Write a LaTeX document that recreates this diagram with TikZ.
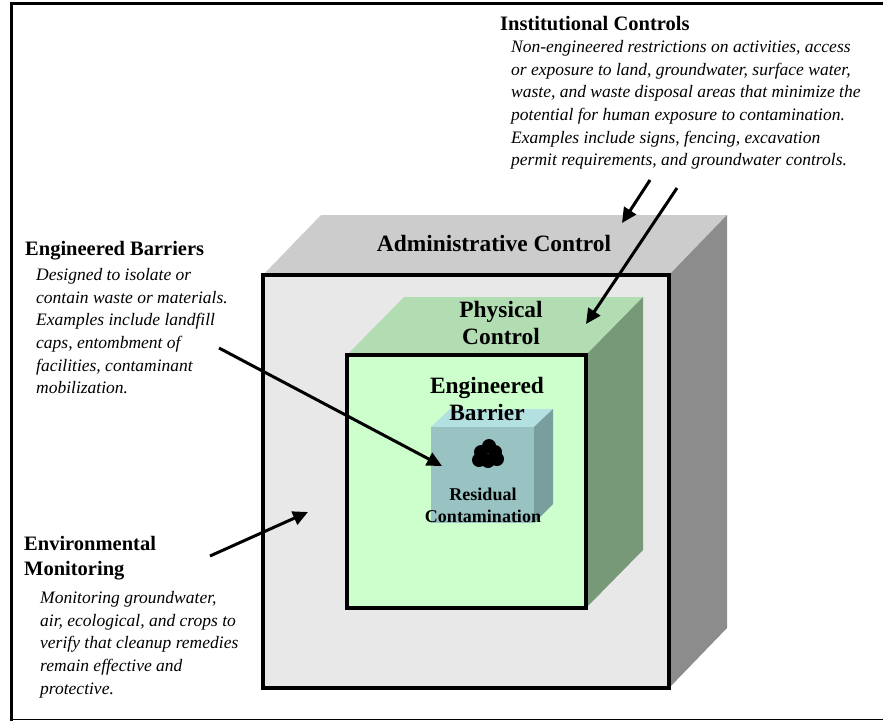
\documentclass[tikz,border=0pt]{standalone}
\usepackage{fontspec}
\setmainfont{Liberation Serif}
\usetikzlibrary{arrows.meta}

\definecolor{adminfront}{HTML}{E8E8E8}
\definecolor{admintop}{HTML}{CCCCCC}
\definecolor{adminside}{HTML}{8C8C8C}
\definecolor{physfront}{HTML}{CCFFCC}
\definecolor{phystop}{HTML}{B2DCB2}
\definecolor{physside}{HTML}{779977}
\definecolor{barfront}{HTML}{99C2C2}
\definecolor{bartop}{HTML}{B3E0E0}
\definecolor{barside}{HTML}{789E9E}

\tikzset{
  heading/.style={anchor=north west, inner sep=0pt, align=left,
    font=\fontsize{20.5}{25}\selectfont\bfseries},
  desc/.style={anchor=north west, inner sep=0pt, align=left,
    font=\fontsize{17.5}{22.7}\selectfont\itshape},
  cubelabel/.style={inner sep=0pt, align=center,
    font=\fontsize{23.4}{27}\selectfont\bfseries},
  smalllabel/.style={inner sep=0pt, align=center,
    font=\fontsize{18}{22}\selectfont\bfseries},
  pointer/.style={line width=3pt, -{Triangle[length=15pt,width=14pt]}},
  frontedge/.style={line width=4pt, line join=miter},
}

\begin{document}
\begin{tikzpicture}[x=1pt,y=-1pt]
\useasboundingbox (0,0) rectangle (883,721);
\fill[white] (0,0) rectangle (883,721);

% page frame: heavy top and left rules, light bottom rule
\draw[line width=3.5pt] (11.5,721) -- (11.5,3.5) -- (883,3.5);
\draw[line width=1.5pt] (11.5,719.5) -- (883,719.5);

% administrative control cube
\fill[admintop] (263,275) -- (321,215) -- (727,215) -- (669,275) -- cycle;
\fill[adminside] (669,275) -- (727,215) -- (727,628) -- (669,688) -- cycle;
\fill[adminfront] (263,275) rectangle (669,688);
\draw[frontedge] (263,275) rectangle (669,688);

% physical control cube
\fill[phystop] (347,355) -- (404,297) -- (643,297) -- (586,355) -- cycle;
\fill[physside] (586,355) -- (643,297) -- (643,550) -- (586,608) -- cycle;
\fill[physfront] (347,355) rectangle (586,608);
\draw[line width=3.5pt] (347,355) rectangle (586,608);

% engineered barrier cube
\fill[bartop] (431,427) -- (450,409) -- (553,409) -- (534,427) -- cycle;
\fill[barside] (534,427) -- (553,409) -- (553,504) -- (534,523) -- cycle;
\fill[barfront] (431,427) rectangle (534,523);

% residual contamination blob
\fill[black] (489,446) circle (7)
  (481,452) circle (7) (495,452) circle (7)
  (479,460) circle (7) (488,461) circle (7) (497,459) circle (7);

% labels on the cubes
\node[cubelabel] (admin) at (494,243) {Administrative Control};
\node[cubelabel] (phys) at (501,323) {Physical\\Control};
\node[cubelabel] (barrier) at (487,399) {Engineered\\Barrier};
\node[smalllabel] (resid) at (483,505) {Residual\\Contamination};

% institutional controls text
\node[heading] (insthead) at (500,16) {Institutional Controls};
\node[desc] (insttext) at (511,40) {Non-engineered restrictions on activities, access\\
or exposure to land, groundwater, surface water,\\
waste, and waste disposal areas that minimize the\\
potential for human exposure to contamination.\\
Examples include signs, fencing, excavation\\
permit requirements, and groundwater controls.};

% engineered barriers text
\node[heading] (enghead) at (25,241) {Engineered Barriers};
\node[desc] (engtext) at (36,268) {Designed to isolate or\\
contain waste or materials.\\
Examples include landfill\\
caps, entombment of\\
facilities, contaminant\\
mobilization.};

% environmental monitoring text
\node[heading] (envhead) at (24,536) {Environmental\\Monitoring};
\node[desc] (envtext) at (40,591) {Monitoring groundwater,\\
air, ecological, and crops to\\
verify that cleanup remedies\\
remain effective and\\
protective.};

% arrow ends
\coordinate (instA) at (650,180);
\coordinate (instAtip) at (622,223);
\coordinate (instB) at (677,188);
\coordinate (instBtip) at (586,324);
\coordinate (engA) at (219,348);
\coordinate (engAtip) at (442,466);
\coordinate (envA) at (210,556);
\coordinate (envAtip) at (308,512);

\draw[pointer] (instA) -- (instAtip);
\draw[pointer] (instB) -- (instBtip);
\draw[pointer] (engA) -- (engAtip);
\draw[pointer] (envA) -- (envAtip);
\end{tikzpicture}
\end{document}
